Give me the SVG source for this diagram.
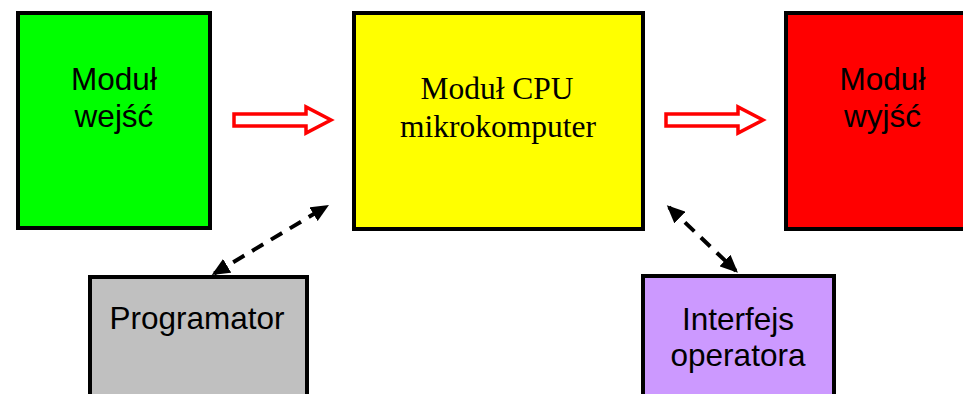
<svg xmlns="http://www.w3.org/2000/svg" width="963" height="394" viewBox="0 0 963 394">
<style>
.box{stroke:#000;stroke-width:4}
.sans{font-family:"Liberation Sans",Arial,sans-serif;font-size:31.5px;fill:#000;text-anchor:middle}
.serif{font-family:"Liberation Serif","Times New Roman",serif;font-size:31.5px;fill:#000;text-anchor:middle}
.hollow{fill:#fff;stroke:#f00;stroke-width:3.5}
.dash{stroke:#000;stroke-width:4;stroke-dasharray:13 9;fill:none;marker-start:url(#ah);marker-end:url(#ah)}
</style>
<defs>
<marker id="ah" markerUnits="userSpaceOnUse" markerWidth="18" markerHeight="16" refX="15" refY="8" orient="auto-start-reverse">
<path d="M0,0 L18,8 L0,16 z" fill="#000"/>
</marker>
</defs>
<rect width="963" height="394" fill="#fff"/>
<g id="wejsc">
<rect class="box" x="18" y="13" width="192" height="215" fill="#00ff00"/>
<text class="sans" x="114" y="90">Moduł</text>
<text class="sans" x="114" y="127">wejść</text>
</g>
<g id="cpu">
<rect class="box" x="354" y="13" width="289" height="216" fill="#ffff00"/>
<text class="serif" x="497" y="99">Moduł CPU</text>
<text class="serif" x="498" y="137">mikrokomputer</text>
</g>
<g id="wyjsc">
<rect class="box" x="786" y="13" width="193" height="216" fill="#ff0000"/>
<text class="sans" x="882.5" y="90">Moduł</text>
<text class="sans" x="882.5" y="127">wyjść</text>
</g>
<g id="programator">
<rect class="box" x="90" y="277" width="217" height="200" fill="#c0c0c0"/>
<text class="sans" x="197" y="329">Programator</text>
</g>
<g id="interfejs">
<rect class="box" x="643" y="276" width="191" height="200" fill="#cc99ff"/>
<text class="sans" x="738" y="330">Interfejs</text>
<text class="sans" x="738" y="366">operatora</text>
</g>
<g id="connectors">
<polygon class="hollow" points="234,114 306,114 306,107 331,120 306,133 306,126 234,126"/>
<polygon class="hollow" points="666,114 738,114 738,107 763,120 738,133 738,126 666,126"/>
<line class="dash" x1="214.3" y1="273.5" x2="326.4" y2="206.5"/>
<line class="dash" x1="669" y1="207.2" x2="735.8" y2="270.8"/>
</g>
</svg>
